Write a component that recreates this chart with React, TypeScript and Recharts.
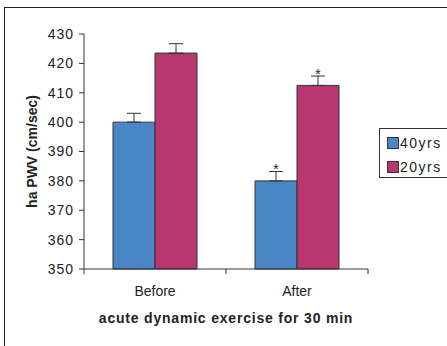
import React from 'react';
import { BarChart, Bar, XAxis, YAxis, ErrorBar, Legend } from 'recharts';

const categories = ['Before', 'After'];
const yrs40 = [400, 380];
const yrs20 = [423.5, 412.5];
const err40 = [3, 3.2];
const err20 = [3.2, 3.2];
const sig40 = ['', '*'];
const sig20 = ['', '*'];
const yTicks = [350, 360, 370, 380, 390, 400, 410, 420, 430];
const seriesNames = ['40yrs', '20yrs'];

const BLUE = '#4a86c6';
const RED = '#b73670';
const INK = '#333';
const FONT = '"Liberation Sans", Arial, sans-serif';

const data = categories.map((name, i) => ({
  name,
  y40: yrs40[i],
  y20: yrs20[i],
  e40: [0, err40[i]],
  e20: [0, err20[i]],
}));

const W = 447;
const H = 346;
const margin = { top: 34, right: 79, bottom: 0, left: 0 };
const halfBand = (W - 84 - margin.right) / categories.length / 2;

const XTick = (props: any) => {
  const { x, y, payload, index } = props;
  return (
    <g>
      <line x1={x - halfBand} x2={x - halfBand} y1={y} y2={y + 5} stroke={INK} />
      {index === categories.length - 1 && (
        <line x1={x + halfBand} x2={x + halfBand} y1={y} y2={y + 5} stroke={INK} />
      )}
      <text x={x} y={y + 27} textAnchor="middle" fontSize={14} fill="#222" fontFamily={FONT}>
        {payload.value}
      </text>
    </g>
  );
};

const YLabel = (props: any) => {
  const { x, y, height } = props.viewBox;
  return (
    <text
      transform={`translate(${x + 32},${y + height / 2}) rotate(-90)`}
      textAnchor="middle"
      dominantBaseline="central"
      fontSize={14}
      fontWeight="bold"
      fill="#222"
      fontFamily={FONT}
    >
      ha PWV (cm/sec)
    </text>
  );
};

const starLabel = (errs: number[], marks: string[]) => (props: any) => {
  const { x, y, width, height, value, index } = props;
  if (!marks[index]) return null;
  const perUnit = height / (value - yTicks[0]);
  const top = y - errs[index] * perUnit;
  return (
    <text x={x + width / 2} y={top + 3} textAnchor="middle" fontSize={14} fill="#222" fontFamily={FONT}>
      {marks[index]}
    </text>
  );
};

const LegendBox = () => (
  <div
    style={{
      position: 'absolute',
      left: 379,
      top: 128,
      width: 68,
      height: 50,
      boxSizing: 'border-box',
      border: `1px solid ${INK}`,
      borderRight: 'none',
      fontFamily: FONT,
      fontSize: 14,
      color: '#222',
    }}
  >
    {seriesNames.map((n, i) => (
      <div key={n} style={{ position: 'absolute', left: 7, top: 6 + i * 24, display: 'flex', alignItems: 'center', lineHeight: '16px' }}>
        <span
          style={{
            display: 'inline-block',
            width: 10,
            height: 10,
            background: i === 0 ? BLUE : RED,
            border: `1px solid ${INK}`,
            marginRight: 1,
          }}
        />
        <span style={{ letterSpacing: 1.5 }}>{n}</span>
      </div>
    ))}
  </div>
);

export default function App() {
  return (
    <div style={{ position: 'absolute', left: 0, top: 0, width: W, height: H, overflow: 'hidden', background: '#fff' }}>
      <div
        style={{
          position: 'absolute',
          left: 4,
          top: 7,
          width: W - 4,
          height: H - 7,
          borderTop: '1px solid #222',
          borderLeft: '1px solid #222',
          boxSizing: 'border-box',
        }}
      />
      <BarChart width={W} height={H} data={data} margin={margin} barCategoryGap={29} barGap={0}>
        <XAxis
          dataKey="name"
          height={77}
          stroke={INK}
          tickLine={false}
          tickSize={0}
          tickMargin={0}
          tick={<XTick />}
          interval={0}
          label={{
            value: 'acute dynamic exercise for 30 min',
            position: 'insideBottom',
            offset: 23,
            style: { fontSize: 14, fontWeight: 'bold', letterSpacing: 0.8, fill: '#222', fontFamily: FONT },
          }}
        />
        <YAxis
          width={84}
          domain={[yTicks[0], yTicks[yTicks.length - 1]]}
          ticks={yTicks}
          interval={0}
          stroke={INK}
          tickSize={5}
          tickMargin={5}
          tick={{ fontSize: 14, fill: '#222', fontFamily: FONT, letterSpacing: 1 }}
          label={<YLabel />}
        />
        <Legend content={<LegendBox />} wrapperStyle={{ position: 'absolute', left: 0, top: 0 }} />
        <Bar dataKey="y40" name={seriesNames[0]} fill={BLUE} stroke={INK} strokeWidth={1} isAnimationActive={false}
          label={starLabel(err40, sig40)}>
          <ErrorBar dataKey="e40" width={7} stroke={INK} strokeWidth={1} direction="y" />
        </Bar>
        <Bar dataKey="y20" name={seriesNames[1]} fill={RED} stroke={INK} strokeWidth={1} isAnimationActive={false}
          label={starLabel(err20, sig20)}>
          <ErrorBar dataKey="e20" width={7} stroke={INK} strokeWidth={1} direction="y" />
        </Bar>
      </BarChart>
    </div>
  );
}
